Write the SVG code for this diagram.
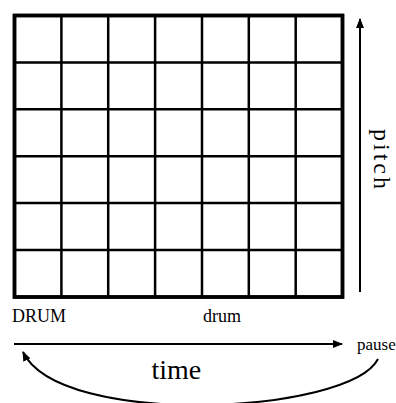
<svg xmlns="http://www.w3.org/2000/svg" width="396" height="403" viewBox="0 0 396 403">
  <style>
    .lbl { font-family: "Liberation Serif", "Times New Roman", serif; fill: #000; }
    .grid { fill: none; stroke: #000; stroke-width: 2.5; }
    .border { fill: #fff; stroke: #000; stroke-width: 3.5; }
    .conn { fill: none; stroke: #000; stroke-width: 2; }
  </style>
  <defs>
    <marker id="arrow" markerUnits="userSpaceOnUse" markerWidth="10" markerHeight="8" refX="9" refY="4" orient="auto">
      <path d="M0,0 L10,4 L0,8 z" fill="#000"/>
    </marker>
  </defs>
  <rect width="396" height="403" fill="#fff"/>

  <g id="grid">
    <rect class="border" x="14.5" y="15.5" width="328" height="281.5"/>
    <path class="grid" d="M61.4,15.5V297 M108.2,15.5V297 M155.1,15.5V297 M202,15.5V297 M248.8,15.5V297 M295.7,15.5V297
                          M14.5,62.4H342.5 M14.5,109.3H342.5 M14.5,156.2H342.5 M14.5,203.1H342.5 M14.5,250.1H342.5"/>
    <rect x="14.5" y="15.5" width="328" height="281.5" fill="none" stroke="#000" stroke-width="3.5"/>
  </g>

  <g id="label-drum-upper">
    <text class="lbl" x="12" y="322" font-size="18">DRUM</text>
  </g>
  <g id="label-drum-lower">
    <text class="lbl" x="203" y="322" font-size="18">drum</text>
  </g>
  <g id="label-pause">
    <text class="lbl" x="357" y="350" font-size="17">pause</text>
  </g>
  <g id="label-time">
    <text class="lbl" x="151.5" y="379" font-size="28">time</text>
  </g>
  <g id="label-pitch">
    <text class="lbl" font-size="24" letter-spacing="3" transform="translate(374,129) rotate(90)">pitch</text>
  </g>

  <g id="connectors">
    <line class="conn" x1="360" y1="292" x2="360" y2="19" marker-end="url(#arrow)"/>
    <line class="conn" x1="14" y1="344" x2="342" y2="344" marker-end="url(#arrow)"/>
    <path class="conn" d="M378,359 C350,414 60,429 23,352" marker-end="url(#arrow)"/>
  </g>
</svg>
